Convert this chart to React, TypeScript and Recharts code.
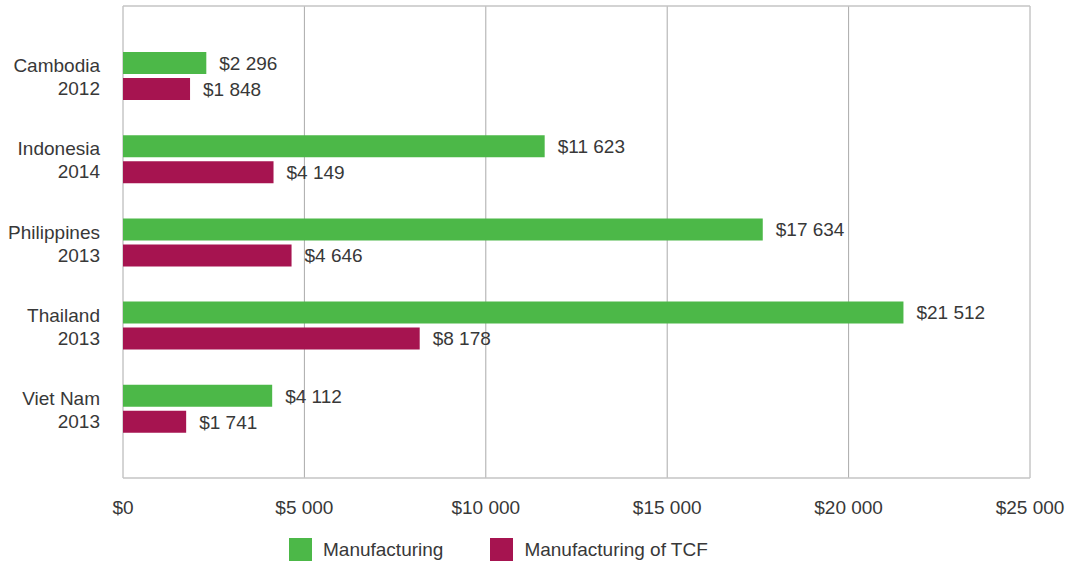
import { BarChart, Bar, XAxis, YAxis, CartesianGrid, Legend, LabelList } from 'recharts'

const countries = ['Cambodia', 'Indonesia', 'Philippines', 'Thailand', 'Viet Nam']
const years = ['2012', '2014', '2013', '2013', '2013']
const manufacturing = [2296, 11623, 17634, 21512, 4112]
const manufacturingTcf = [1848, 4149, 4646, 8178, 1741]
const xTicks = [0, 5000, 10000, 15000, 20000, 25000]

const GREEN = '#4cb848'
const MAROON = '#a61450'
const TEXT = '#383838'
const FONT = '"Liberation Sans", Arial, sans-serif'

const data = countries.map((c, i) => ({
  label: c + '|' + years[i],
  manufacturing: manufacturing[i],
  tcf: manufacturingTcf[i],
}))

const money = (v: number) => '$' + String(v).replace(/\B(?=(\d{3})+(?!\d))/g, ' ')

function CategoryTick({ x, y, payload }: any) {
  const [name, year] = String(payload.value).split('|')
  return (
    <text x={x} y={y} textAnchor="end" fill={TEXT} fontSize={19} fontFamily={FONT}>
      <tspan x={x} dy={-3.5}>{name}</tspan>
      <tspan x={x} dy={23}>{year}</tspan>
    </text>
  )
}

function LegendBox() {
  const items = [
    { name: 'Manufacturing', color: GREEN },
    { name: 'Manufacturing of TCF', color: MAROON },
  ]
  return (
    <div style={{ height: 45, paddingTop: 18, boxSizing: 'border-box', display: 'flex', paddingLeft: 289 }}>
      {items.map(it => (
        <div key={it.name} style={{ display: 'flex', alignItems: 'center', marginRight: 47 }}>
          <span style={{ width: 23, height: 23, background: it.color, display: 'inline-block' }} />
          <span style={{ marginLeft: 11, fontSize: 19, color: TEXT, fontFamily: FONT }}>{it.name}</span>
        </div>
      ))}
    </div>
  )
}

export default function App() {
  return (
    <div>
      <style>{'body{margin:0}'}</style>
      <BarChart
        width={1067}
        height={563}
        data={data}
        layout="vertical"
        margin={{ top: 6, right: 37, left: 0, bottom: 0 }}
        barSize={22}
        barGap={4}
      >
        <CartesianGrid horizontal={false} stroke="#aaaaaa" />
        <CartesianGrid
          vertical={false}
          stroke="#c4c4c4"
          strokeWidth={1.5}
          horizontalCoordinatesGenerator={({ offset }: any) => [offset.top, offset.top + offset.height]}
        />
        <XAxis
          type="number"
          domain={[0, 25000]}
          ticks={xTicks}
          tickFormatter={money}
          axisLine={false}
          tickLine={false}
          tickMargin={17}
          height={40}
          tick={{ fill: TEXT, fontSize: 19, fontFamily: FONT }}
        />
        <YAxis
          type="category"
          dataKey="label"
          width={123}
          axisLine={false}
          tickLine={false}
          tickMargin={17}
          padding={{ top: 28, bottom: 28 }}
          tick={<CategoryTick />}
        />
        <Legend verticalAlign="bottom" content={<LegendBox />} />
        <Bar dataKey="manufacturing" name="Manufacturing" fill={GREEN} isAnimationActive={false}>
          <LabelList dataKey="manufacturing" position="right" offset={13} formatter={(v: any) => money(v)} fill={TEXT} fontSize={19} fontFamily={FONT} />
        </Bar>
        <Bar dataKey="tcf" name="Manufacturing of TCF" fill={MAROON} isAnimationActive={false}>
          <LabelList dataKey="tcf" position="right" offset={13} formatter={(v: any) => money(v)} fill={TEXT} fontSize={19} fontFamily={FONT} />
        </Bar>
      </BarChart>
    </div>
  )
}
